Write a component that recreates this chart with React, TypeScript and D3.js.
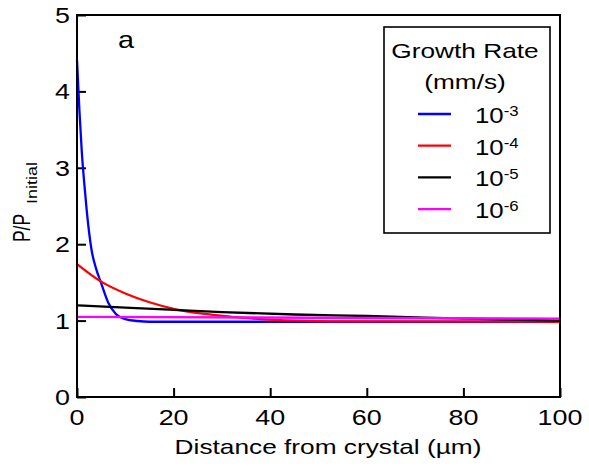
import React, { useEffect, useRef } from 'react';
import * as d3 from 'd3';

// distance from crystal (µm) and P/P_initial
const blueDist = [0, 0.5, 1, 1.5, 2, 3, 4, 5, 6.5, 8, 10, 12.5, 15, 30, 100];
const blueRatio = [4.41, 3.75, 3.2, 2.8, 2.45, 1.93, 1.67, 1.49, 1.23, 1.09, 1.02, 0.995, 0.985, 0.985, 0.985];

const redDist = [0, 5, 10, 15, 20, 26, 32, 38, 45, 55, 100];
const redRatio = [1.74, 1.51, 1.355, 1.24, 1.155, 1.09, 1.05, 1.02, 1.0, 0.99, 0.985];

const blackDist = [0, 10, 20, 30, 45, 60, 72, 85, 100];
const blackRatio = [1.2, 1.17, 1.14, 1.11, 1.08, 1.06, 1.04, 1.02, 1.0];

const magentaDist = [0, 50, 100];
const magentaRatio = [1.05, 1.037, 1.025];

const rateExponents = ['-3', '-4', '-5', '-6'];
const rateColors = ['#0000ff', '#ff0000', '#000000', '#ff00ff'];

const xTicks = [0, 20, 40, 60, 80, 100];
const yTicks = [0, 1, 2, 3, 4, 5];

const FONT = 'Liberation Sans, Arial, sans-serif';

function App() {
  const ref = useRef<SVGSVGElement>(null);

  useEffect(() => {
    const svg = d3.select(ref.current);
    svg.selectAll('*').remove();

    const left = 77, right = 560, top = 15, bottom = 397;

    const x = d3.scaleLinear().domain([0, 100]).range([left, right]);
    const y = d3.scaleLinear().domain([0, 5]).range([bottom, top]);

    // inward ticks
    const xAxis = svg.append('g')
      .attr('transform', 'translate(0,' + bottom + ')')
      .call(d3.axisBottom(x).tickValues(xTicks).tickSizeInner(-9).tickSizeOuter(0));
    xAxis.select('.domain').remove();
    xAxis.selectAll('line').attr('stroke', '#000').attr('stroke-width', 2);
    xAxis.selectAll('text').remove();

    const yAxis = svg.append('g')
      .attr('transform', 'translate(' + left + ',0)')
      .call(d3.axisLeft(y).tickValues(yTicks).tickSizeInner(-9).tickSizeOuter(0));
    yAxis.select('.domain').remove();
    yAxis.selectAll('line').attr('stroke', '#000').attr('stroke-width', 2);
    yAxis.selectAll('text').remove();

    // tick labels
    svg.append('g')
      .selectAll('text')
      .data(xTicks)
      .enter()
      .append('text')
      .attr('transform', d => 'translate(' + x(d) + ',425) scale(1.25,1)')
      .attr('text-anchor', 'middle')
      .attr('font-family', FONT)
      .attr('font-size', 21.5)
      .text(d => d);

    svg.append('g')
      .selectAll('text')
      .data(yTicks)
      .enter()
      .append('text')
      .attr('transform', d => 'translate(70,' + (y(d) + 8) + ') scale(1.25,1)')
      .attr('text-anchor', 'end')
      .attr('font-family', FONT)
      .attr('font-size', 21.5)
      .text(d => d);

    // curves
    const line = d3.line<[number, number]>()
      .x(d => x(d[0]))
      .y(d => y(d[1]))
      .curve(d3.curveMonotoneX);

    const series = [
      [blueDist, blueRatio],
      [redDist, redRatio],
      [blackDist, blackRatio],
      [magentaDist, magentaRatio],
    ];
    series.forEach((s, i) => {
      const pts = s[0].map((d, j) => [d, s[1][j]] as [number, number]);
      svg.append('path')
        .attr('d', line(pts))
        .attr('fill', 'none')
        .attr('stroke', rateColors[i])
        .attr('stroke-width', 2.3);
    });

    // frame
    svg.append('rect')
      .attr('x', left)
      .attr('y', top)
      .attr('width', right - left)
      .attr('height', bottom - top)
      .attr('fill', 'none')
      .attr('stroke', '#000')
      .attr('stroke-width', 2);

    // panel letter
    svg.append('text')
      .attr('transform', 'translate(118,48) scale(1.2,1)')
      .attr('font-family', FONT)
      .attr('font-size', 24)
      .text('a');

    // axis titles
    svg.append('text')
      .attr('transform', 'translate(328,454) scale(1.25,1)')
      .attr('text-anchor', 'middle')
      .attr('font-family', FONT)
      .attr('font-size', 21)
      .text('Distance from crystal (µm)');

    svg.append('text')
      .attr('transform', 'translate(30,242) scale(1.2,1) rotate(-90)')
      .attr('font-family', FONT)
      .attr('font-size', 20)
      .attr('textLength', 28)
      .attr('lengthAdjust', 'spacingAndGlyphs')
      .text('P/P');
    svg.append('text')
      .attr('transform', 'translate(37,204) scale(1.15,1) rotate(-90)')
      .attr('font-family', FONT)
      .attr('font-size', 12.5)
      .attr('textLength', 42)
      .attr('lengthAdjust', 'spacingAndGlyphs')
      .text('Initial');

    // legend
    const legend = svg.append('g');
    legend.append('rect')
      .attr('x', 384)
      .attr('y', 27)
      .attr('width', 166)
      .attr('height', 206)
      .attr('fill', '#fff')
      .attr('stroke', '#000')
      .attr('stroke-width', 1.6);
    legend.append('text')
      .attr('transform', 'translate(465,58) scale(1.25,1)')
      .attr('text-anchor', 'middle')
      .attr('font-family', FONT)
      .attr('font-size', 21)
      .text('Growth Rate');
    legend.append('text')
      .attr('transform', 'translate(465,89) scale(1.25,1)')
      .attr('text-anchor', 'middle')
      .attr('font-family', FONT)
      .attr('font-size', 21)
      .text('(mm/s)');

    const entry = legend.selectAll('.entry')
      .data(rateExponents)
      .enter()
      .append('g')
      .attr('transform', (d, i) => 'translate(0,' + (114 + i * 31.7) + ')');
    entry.append('line')
      .attr('x1', 418)
      .attr('x2', 451)
      .attr('stroke', (d, i) => rateColors[i])
      .attr('stroke-width', 2.3);
    const lbl = entry.append('text')
      .attr('transform', 'translate(475,9) scale(1.2,1)')
      .attr('font-family', FONT)
      .attr('font-size', 21.5);
    lbl.append('tspan').text('10');
    lbl.append('tspan')
      .attr('dy', -7)
      .attr('font-size', 14)
      .text(d => d);
  }, []);

  return (
    <svg ref={ref} width={589} height={467}
      style={{ position: 'absolute', left: 0, top: 0, background: '#fff' }} />
  );
}

export default App;
